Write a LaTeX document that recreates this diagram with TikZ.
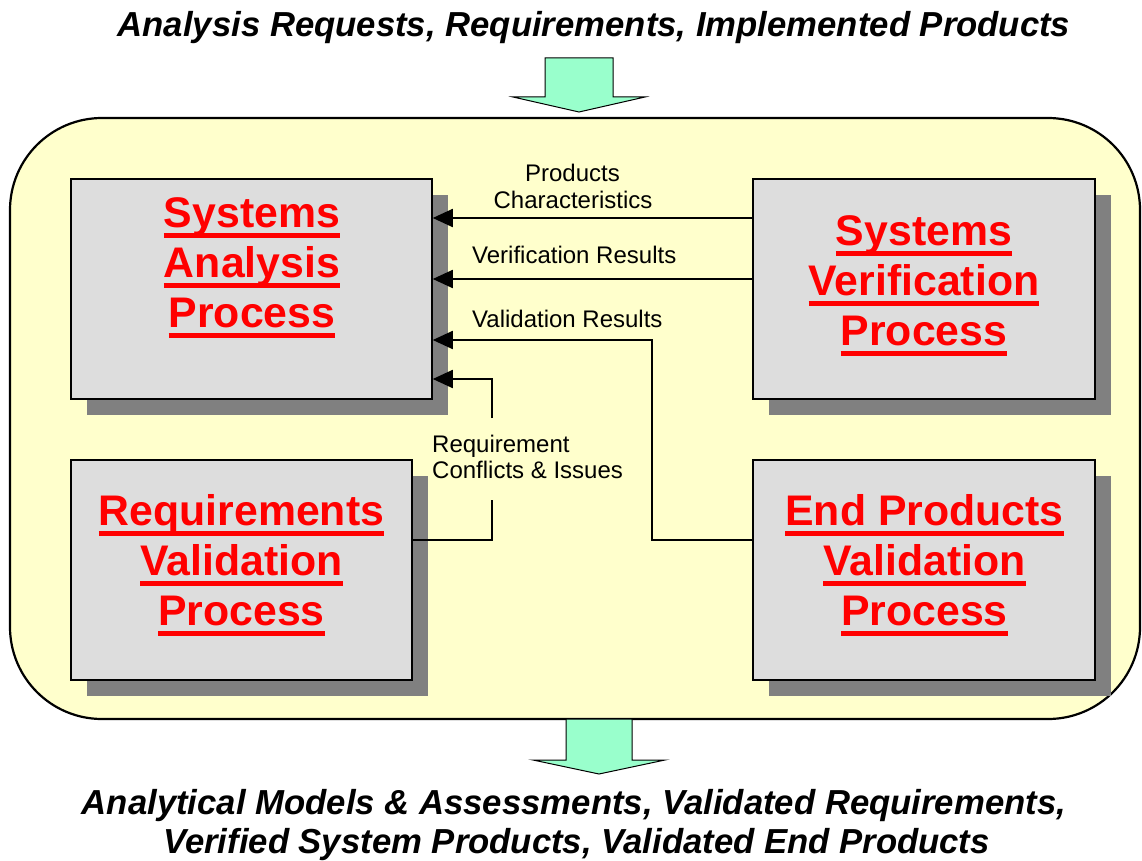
\documentclass[tikz,border=0pt]{standalone}
\usepackage{fontspec}
\setmainfont{Liberation Sans}
\usetikzlibrary{arrows.meta,shadows}
\definecolor{frameyellow}{HTML}{FFFFCC}
\definecolor{boxgray}{HTML}{DDDDDD}
\definecolor{shadowgray}{HTML}{808080}
\definecolor{arrowgreen}{HTML}{99FFCC}
\newcommand\redline[1]{\setbox0=\hbox{#1}\rlap{\rule[-10.5pt]{\wd0}{4.5pt}}\box0}
\begin{document}
\begin{tikzpicture}[x=1pt,y=-1pt,
 frame/.style={draw=black, line width=2.2pt, fill=frameyellow, rounded corners=92pt, inner sep=0},
 procbox/.style={draw=black, line width=1.5pt, fill=boxgray, inner sep=0,
   drop shadow={shadow xshift=16pt, shadow yshift=-16pt, fill=shadowgray, opacity=1, draw=none}},
 ptext/.style={anchor=base, inner sep=0, text=red, font=\fontsize{42.8}{50}\selectfont\bfseries},
 lbl/.style={inner sep=0, font=\fontsize{24}{26}\selectfont},
 conn/.style={line width=1.8pt},
 arr/.style={conn, -{Triangle[length=20pt,width=18pt]}},
 bigarrow/.style={draw=black, line width=1pt, fill=arrowgreen},
 heading/.style={inner sep=0, anchor=base, font=\fontsize{34.7}{40}\selectfont\bfseries\itshape}]
\useasboundingbox (0,0) rectangle (1142,861);
\fill[white] (0,0) rectangle (1142,861);
% frame
\node[frame, minimum width=1130pt, minimum height=601pt] (frame) at (575,418.5) {};
% process boxes
\node[procbox, minimum width=361pt, minimum height=220pt] (sa) at (251.5,289) {};
\node[procbox, minimum width=342pt, minimum height=220pt] (sv) at (924,289) {};
\node[procbox, minimum width=341pt, minimum height=220pt] (rv) at (241.5,570) {};
\node[procbox, minimum width=342pt, minimum height=220pt] (epv) at (924,570) {};
% box texts
\node[ptext] (sa1) at (252,227) {\redline{Systems}};
\node[ptext] (sa2) at (252,277) {\redline{Analysis}};
\node[ptext] (sa3) at (252,327) {\redline{Process}};
\node[ptext] (sv1) at (924,245) {\redline{Systems}};
\node[ptext] (sv2) at (924,295) {\redline{Verification}};
\node[ptext] (sv3) at (924,345) {\redline{Process}};
\node[ptext] (rv1) at (241.5,525) {\redline{Requirements}};
\node[ptext] (rv2) at (241.5,575) {\redline{Validation}};
\node[ptext] (rv3) at (241.5,625) {\redline{Process}};
\node[ptext] (ep1) at (924.5,525) {\redline{End Products}};
\node[ptext] (ep2) at (924.5,575) {\redline{Validation}};
\node[ptext] (ep3) at (924.5,625) {\redline{Process}};
% big arrows
\draw[bigarrow] (545,58) -- (613,58) -- (613,97) -- (645,97) -- (579,112) -- (513,97) -- (545,97) -- cycle;
\draw[bigarrow] (566,719) -- (566,760) -- (533,760) -- (599,774) -- (665,760) -- (632,760) -- (632,719) -- cycle;
% connectors
\draw[arr] ([yshift=71pt]sv.west) -- ([yshift=71pt]sa.east);
\draw[arr] ([yshift=10pt]sv.west) -- ([yshift=10pt]sa.east);
\draw[arr] ([yshift=30pt]epv.west) -| ([xshift=-100pt,yshift=-51pt]sv.west) -- ([yshift=-51pt]sa.east);
\coordinate (gapB) at (492,500);
\coordinate (gapT) at (492,418);
\draw[conn] ([yshift=30pt]rv.east) -| (gapB);
\draw[arr] (gapT) |- ([yshift=-90pt]sa.east);
% labels
\node[lbl, anchor=base] (pc1) at (572.5,182) {Products};
\node[lbl, anchor=base] (pc2) at (573,208) {Characteristics};
\node[lbl, anchor=base west] (vr) at (472,263) {Verification Results};
\node[lbl, anchor=base west] (vl) at (472,327) {Validation Results};
\node[lbl, anchor=base west] (rc1) at (432,452) {Requirement};
\node[lbl, anchor=base west] (rc2) at (432,478) {Conflicts \& Issues};
% headings
\node[heading] (top) at (594,37) {Analysis Requests, Requirements, Implemented Products};
\node[heading] (bot1) at (574,814) {Analytical Models \& Assessments, Validated Requirements,};
\node[heading] (bot2) at (576.5,853) {Verified System Products, Validated End Products};
\end{tikzpicture}
\end{document}
